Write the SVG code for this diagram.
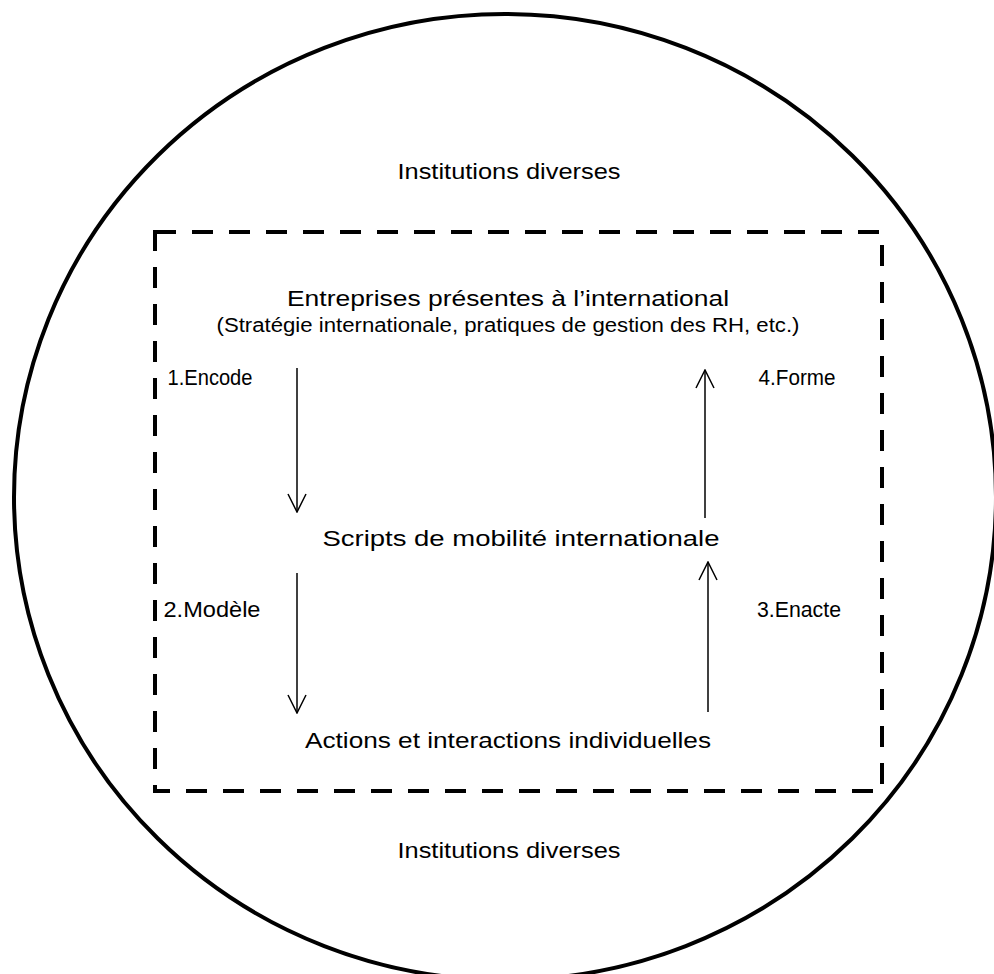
<svg xmlns="http://www.w3.org/2000/svg" width="994" height="974" viewBox="0 0 994 974">
<defs>
<style>
.t{font-family:"Liberation Sans",Arial,sans-serif;fill:#000;text-anchor:middle}
.big{font-size:22px}
.small{font-size:19.5px}
.conn line{stroke:#000;stroke-width:1.5;fill:none}
</style>
<marker id="ah" viewBox="0 0 20 20" refX="19" refY="10" markerWidth="20" markerHeight="20" markerUnits="userSpaceOnUse" orient="auto">
<path d="M1,1 L19,10 L1,19" fill="none" stroke="#000" stroke-width="1.5"/>
</marker>
</defs>
<rect width="994" height="974" fill="#fff"/>
<g id="outer">
<ellipse cx="505" cy="497" rx="491" ry="483" fill="none" stroke="#000" stroke-width="4"/>
<text class="t big" x="509" y="179" textLength="223" lengthAdjust="spacingAndGlyphs">Institutions diverses</text>
<text class="t big" x="509" y="858" textLength="223" lengthAdjust="spacingAndGlyphs">Institutions diverses</text>
</g>
<g id="boundary">
<rect x="155" y="232" width="727" height="559" fill="none" stroke="#000" stroke-width="4" stroke-dasharray="21 16"/>
</g>
<g id="entreprises">
<text class="t big" x="508" y="306" textLength="442" lengthAdjust="spacingAndGlyphs">Entreprises présentes à l’international</text>
<text class="t small" x="508" y="332" textLength="583" lengthAdjust="spacingAndGlyphs">(Stratégie internationale, pratiques de gestion des RH, etc.)</text>
</g>
<g id="scripts">
<text class="t big" x="521" y="546" textLength="397" lengthAdjust="spacingAndGlyphs">Scripts de mobilité internationale</text>
</g>
<g id="actions">
<text class="t big" x="508" y="748" textLength="406" lengthAdjust="spacingAndGlyphs">Actions et interactions individuelles</text>
</g>
<g id="connectors" class="conn">
<line x1="297" y1="368" x2="297" y2="512" marker-end="url(#ah)"/>
<line x1="705" y1="518" x2="705" y2="370" marker-end="url(#ah)"/>
<line x1="297" y1="573" x2="297" y2="713" marker-end="url(#ah)"/>
<line x1="708" y1="712" x2="708" y2="562" marker-end="url(#ah)"/>
</g>
<g id="labels">
<text class="t big" x="210" y="385" textLength="85" lengthAdjust="spacingAndGlyphs">1.Encode</text>
<text class="t big" x="797" y="385" textLength="77" lengthAdjust="spacingAndGlyphs">4.Forme</text>
<text class="t big" x="212" y="617" textLength="97" lengthAdjust="spacingAndGlyphs">2.Modèle</text>
<text class="t big" x="799" y="617" textLength="84" lengthAdjust="spacingAndGlyphs">3.Enacte</text>
</g>
</svg>
